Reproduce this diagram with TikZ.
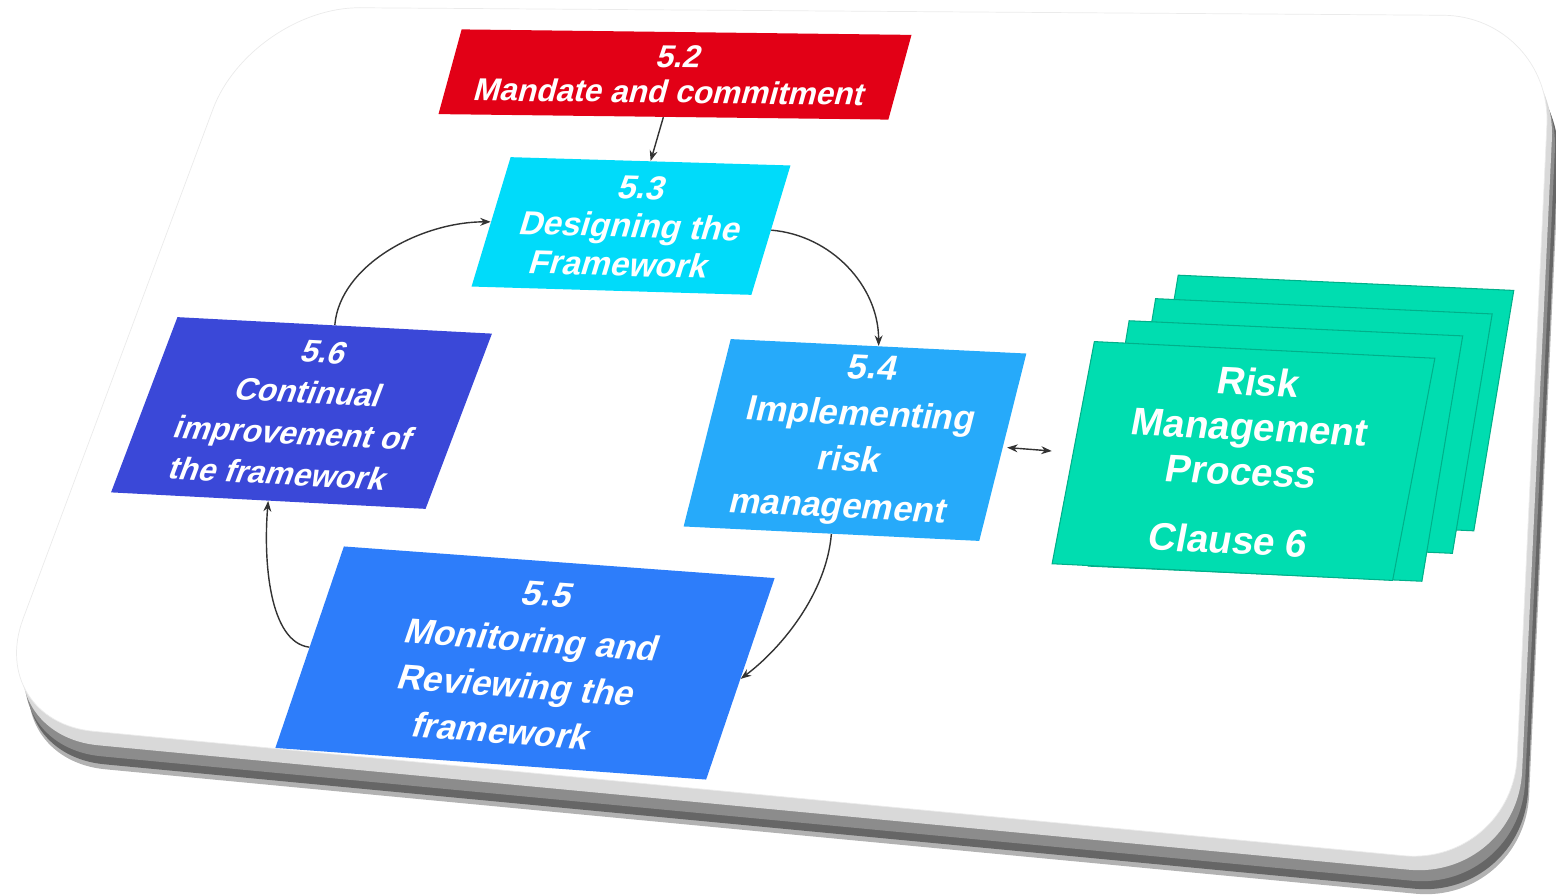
\documentclass[tikz,border=0pt]{standalone}
\usepackage{fontspec}
\setsansfont{Liberation Sans}
\usetikzlibrary{arrows.meta}

\definecolor{mandred}{RGB}{226,0,22}
\definecolor{designcyan}{RGB}{0,219,250}
\definecolor{implblue}{RGB}{38,170,250}
\definecolor{monblue}{RGB}{45,125,250}
\definecolor{impvblue}{RGB}{58,72,216}
\definecolor{sheetgreen}{RGB}{0,221,176}
\definecolor{sheetedge}{RGB}{0,176,138}
\newcommand\bsize[2]{\sffamily\bfseries\fontsize{#1}{#2}\selectfont}

\begin{document}
\begin{tikzpicture}[x=0.02cm,y=-0.02cm,>={Stealth[length=6pt,width=4.5pt]},
  box/.style={transform shape,align=center,text=white,inner sep=2pt},
  sheet/.style={transform shape,draw=sheetedge,fill=sheetgreen,line width=0.6pt},
  flow/.style={->,line width=0.8pt,black!80}]
\def\card{(251,7) -- (1552,16) -- (1512,866) -- (-15,721) -- cycle}
\useasboundingbox (0,0) rectangle (1556,895);
% board and its rim
\foreach \dx/\dy/\col in {12/38/black!30, 11/33/black!60, 8/25/black!45, 5/14/black!15}
  \fill[\col,rounded corners=62pt,shift={(\dx,\dy)}] \card;
\filldraw[fill=white,draw=black!8,rounded corners=62pt] \card;

\node[box,fill=mandred,minimum width=9cm,minimum height=1.7cm,rotate=-0.7,xslant=0.26,font=\bsize{18}{20}] (mandate) at (675,74.5) {5.2\\Mandate and commitment};
\node[box,fill=designcyan,minimum width=5.6cm,minimum height=2.61cm,rotate=-1.7,xslant=0.27,font=\bsize{19}{22}] (design) at (631,226) {5.3\\Designing the\\Framework};
\node[box,fill=implblue,minimum width=5.92cm,minimum height=3.79cm,rotate=-2.8,xslant=0.2,font=\bsize{20}{26.5}] (implement) at (855,440) {5.4\\Implementing\\risk\\management};
\node[box,fill=monblue,minimum width=8.64cm,minimum height=4.12cm,rotate=-4.2,xslant=0.26,font=\bsize{20}{26.5}] (monitor) at (525,663) {5.5\\Monitoring and\\Reviewing the\\framework};
\node[box,fill=impvblue,minimum width=6.3cm,minimum height=3.57cm,rotate=-3,xslant=0.32,font=\bsize{18}{23.5}] (improve) at (301.5,413) {5.6\\Continual\\improvement of\\the framework};

% stacked clause 6 sheets
\foreach \x/\y/\w/\h [count=\i] in {1326/403/6.72/4.84, 1304/426/6.74/4.82, 1275.5/451/6.68/4.94}
  \node[sheet,rotate=-2.6,xslant=0.12,minimum width=\w cm,minimum height=\h cm] (sheet\i) at (\x,\y) {};
\node[sheet,box,rotate=-2.8,xslant=0.14,minimum width=6.82cm,minimum height=4.48cm,font=\bsize{22}{25.5}] (rmp) at (1243.5,461) {Risk\\Management\\Process\\[14pt]Clause 6};

\draw[flow] (mandate.south) -- (design.north);
\draw[flow] (design.east) .. controls +(60,5) and +(0,-60) .. (implement.north);
\draw[flow] (implement.south) .. controls +(-5,60) and +(40,-30) .. (monitor.east);
\draw[flow] (monitor.west) .. controls +(-40,-5) and +(-5,60) .. (improve.south);
\draw[flow] (improve.north) .. controls +(5,-60) and +(-70,0) .. (design.west);
\draw[flow,<->,shorten <=0.08cm,shorten >=0.42cm] (implement.east) -- (rmp.west);
\end{tikzpicture}
\end{document}
